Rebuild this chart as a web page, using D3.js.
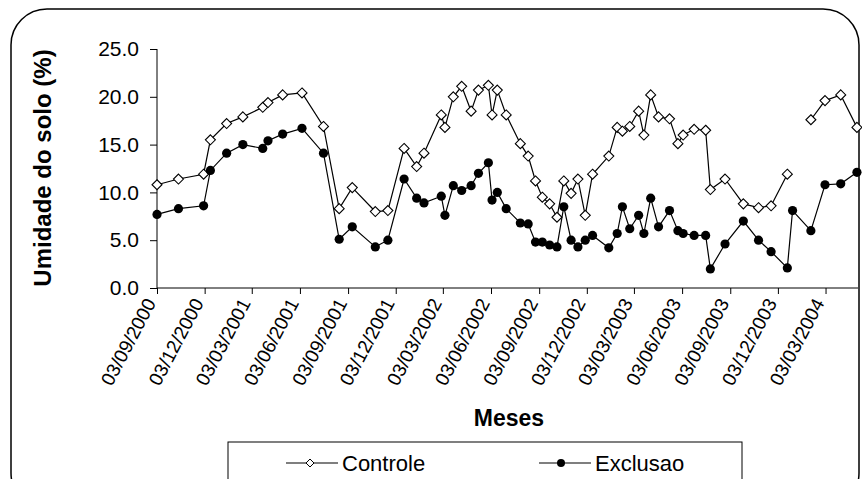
<!DOCTYPE html>
<html>
<head>
<meta charset="utf-8">
<script src="https://cdn.jsdelivr.net/npm/d3@7"></script>
<style>
  body { margin: 0; background: #fff; }
  text { font-family: "Liberation Sans", Arial, sans-serif; }
</style>
</head>
<body>
<script>
// sampling dates
var dates = ["2000-09-03","2000-10-14","2000-12-01","2000-12-14","2001-01-14","2001-02-14","2001-03-24","2001-04-03",
  "2001-05-01","2001-06-07","2001-07-18","2001-08-17","2001-09-11","2001-10-25","2001-11-18","2001-12-19",
  "2002-01-12","2002-01-26","2002-02-28","2002-03-07","2002-03-23","2002-04-08","2002-04-26","2002-05-10",
  "2002-05-29","2002-06-05","2002-06-15","2002-07-02","2002-07-29","2002-08-13","2002-08-27","2002-09-09",
  "2002-09-23","2002-10-07","2002-10-20","2002-11-03","2002-11-16","2002-11-30","2002-12-14","2003-01-14",
  "2003-01-30","2003-02-09","2003-02-23","2003-03-12","2003-03-22","2003-04-04","2003-04-19","2003-05-10",
  "2003-05-26","2003-06-05","2003-06-26","2003-07-18","2003-07-27","2003-08-24","2003-09-28","2003-10-27",
  "2003-11-20","2003-12-21","2003-12-31","2004-02-04","2004-03-02","2004-04-01","2004-05-02"];

var controle = [10.8,11.4,11.9,15.5,17.2,17.9,18.9,19.4,20.2,20.4,16.9,8.3,10.5,8.0,8.1,14.6,
  12.7,14.1,18.1,16.8,20.0,21.1,18.5,20.7,21.2,18.1,20.7,18.1,15.1,13.8,11.2,9.5,
  8.8,7.4,11.2,9.9,11.4,7.6,11.9,13.8,16.8,16.4,16.9,18.5,16.0,20.2,17.9,17.7,
  15.1,16.0,16.6,16.5,10.3,11.4,8.8,8.4,8.6,11.9,null,17.6,19.6,20.2,16.8];

var exclusao = [7.7,8.3,8.6,12.3,14.1,15.0,14.6,15.4,16.1,16.7,14.1,5.1,6.4,4.3,5.0,11.4,
  9.4,8.9,9.6,7.6,10.7,10.2,10.7,12.0,13.1,9.2,10.0,8.3,6.8,6.7,4.8,4.8,
  4.5,4.3,8.5,5.0,4.3,5.0,5.5,4.2,5.7,8.5,6.2,7.6,5.7,9.4,6.4,8.1,
  6.0,5.7,5.5,5.5,2.0,4.6,7.0,5.0,3.8,2.1,8.1,6.0,10.8,10.9,12.1];

var xTickLabels = ["03/09/2000","03/12/2000","03/03/2001","03/06/2001","03/09/2001","03/12/2001","03/03/2002",
  "03/06/2002","03/09/2002","03/12/2002","03/03/2003","03/06/2003","03/09/2003","03/12/2003","03/03/2004"];
var yTicks = [0, 5, 10, 15, 20, 25];

var width = 862, height = 479;
var parse = d3.timeParse("%Y-%m-%d");
var parseTick = d3.timeParse("%d/%m/%Y");

var svg = d3.select("body").append("svg")
  .attr("width", width)
  .attr("height", height);

// outer frame
svg.append("rect")
  .attr("x", 11).attr("y", 9)
  .attr("width", 848).attr("height", 500)
  .attr("rx", 36).attr("ry", 36)
  .attr("fill", "none").attr("stroke", "#000").attr("stroke-width", 1.5);

var x = d3.scaleTime()
  .domain([parse("2000-09-03"), parse("2004-05-04")])
  .range([157, 858]);
var y = d3.scaleLinear()
  .domain([0, 25])
  .range([288, 49]);

// y axis
var yAxis = svg.append("g")
  .attr("transform", "translate(157,0)")
  .call(d3.axisLeft(y).tickValues(yTicks).tickSize(7).tickPadding(11).tickFormat(d3.format(".1f")));
yAxis.selectAll("text").attr("font-size", 21).attr("fill", "#000").attr("font-family", "Liberation Sans, Arial");
yAxis.selectAll("line,path").attr("stroke", "#000");
yAxis.select(".domain").attr("d", "M0,49V288");

// x axis
var xAxis = svg.append("g")
  .attr("transform", "translate(0,288)")
  .call(d3.axisBottom(x).tickValues(xTickLabels.map(parseTick)).tickSize(6).tickFormat(d3.timeFormat("%d/%m/%Y")));
xAxis.selectAll("line,path").attr("stroke", "#000");
xAxis.select(".domain").attr("d", "M157,0H858");
xAxis.selectAll("text")
  .attr("font-size", 19)
  .attr("font-family", "Liberation Sans, Arial")
  .attr("fill", "#000")
  .attr("text-anchor", "end")
  .attr("dy", null)
  .attr("y", 0)
  .attr("transform", "translate(-1,15) rotate(-62)");

// axis titles
svg.append("text")
  .attr("transform", "translate(51,168) rotate(-90)")
  .attr("text-anchor", "middle")
  .attr("font-size", 24)
  .attr("font-weight", "bold")
  .text("Umidade do solo (%)");

svg.append("text")
  .attr("x", 509).attr("y", 426)
  .attr("text-anchor", "middle")
  .attr("font-size", 23)
  .attr("font-weight", "bold")
  .text("Meses");

var pts = dates.map(function(d, i) { return { date: parse(d), c: controle[i], e: exclusao[i] }; });

var diamond = "M0,-5L5,0L0,5L-5,0Z";

function drawSeries(key, marker) {
  var line = d3.line()
    .defined(function(d) { return d[key] != null; })
    .x(function(d) { return x(d.date); })
    .y(function(d) { return y(d[key]); });
  svg.append("path")
    .datum(pts)
    .attr("d", line)
    .attr("fill", "none")
    .attr("stroke", "#000")
    .attr("stroke-width", 1.2);
  var g = svg.append("g");
  var data = pts.filter(function(d) { return d[key] != null; });
  if (marker == "diamond") {
    g.selectAll("path").data(data).enter().append("path")
      .attr("d", diamond)
      .attr("transform", function(d) { return "translate(" + x(d.date) + "," + y(d[key]) + ")"; })
      .attr("fill", "#fff").attr("stroke", "#000").attr("stroke-width", 1.1);
  } else {
    g.selectAll("circle").data(data).enter().append("circle")
      .attr("cx", function(d) { return x(d.date); })
      .attr("cy", function(d) { return y(d[key]); })
      .attr("r", 4.6)
      .attr("fill", "#000");
  }
}
drawSeries("c", "diamond");
drawSeries("e", "circle");

// legend
var leg = svg.append("g");
leg.append("rect")
  .attr("x", 228).attr("y", 442).attr("width", 514).attr("height", 60)
  .attr("fill", "#fff").attr("stroke", "#000").attr("stroke-width", 1);
var items = [{ name: "Controle", x: 286, m: "diamond" }, { name: "Exclusao", x: 539, m: "circle" }];
items.forEach(function(it) {
  leg.append("line")
    .attr("x1", it.x).attr("x2", it.x + 52).attr("y1", 463).attr("y2", 463)
    .attr("stroke", "#000").attr("stroke-width", 1.2);
  if (it.m == "diamond") {
    leg.append("path").attr("d", "M0,-4L4,0L0,4L-4,0Z")
      .attr("transform", "translate(" + (it.x + 24) + ",463)")
      .attr("fill", "#fff").attr("stroke", "#000");
  } else {
    leg.append("circle").attr("cx", it.x + 22).attr("cy", 463).attr("r", 4).attr("fill", "#000");
  }
  leg.append("text")
    .attr("x", it.x + 56).attr("y", 471)
    .attr("font-size", 22)
    .text(it.name);
});
</script>
</body>
</html>
